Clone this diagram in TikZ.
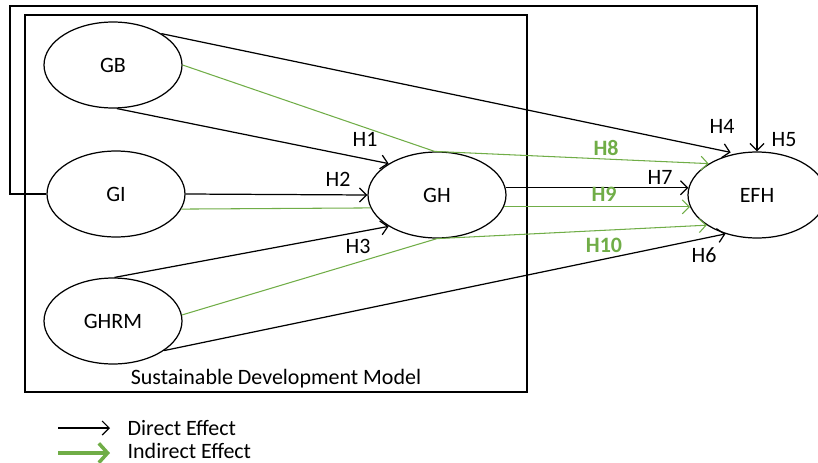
\documentclass[tikz,border=0pt]{standalone}
\usepackage{fontspec}
\setmainfont{Carlito}
\usepackage{xcolor}
\usepackage{tikz}
\usetikzlibrary{shapes.geometric,arrows.meta}
\definecolor{effgreen}{RGB}{112,173,71}

\begin{document}
\begin{tikzpicture}[x=0.02cm,y=-0.02cm,
  var/.style={draw,ellipse,line width=0.7pt,minimum width=2.76cm,minimum height=1.72cm,inner sep=0pt},
  direct/.style={draw,line width=0.7pt,-{Straight Barb[length=4pt,width=8pt]}},
  indirect/.style={draw=effgreen,line width=0.6pt,-{Straight Barb[length=4pt,width=8pt]}},
  hyp/.style={inner sep=1pt},
  hypg/.style={inner sep=1pt,text=effgreen,font=\bfseries}]
\fontsize{12.5}{14}\selectfont
\useasboundingbox (0,0) rectangle (818,463);
% model frame
\draw[line width=0.7pt] (25,15) rectangle (527,392);
\node (sdm) at (276,379) {Sustainable Development Model};
% constructs
\node[var] (GB) at (113,65) {GB};
\node[var] (GI) at (116,194) {GI};
\node[var] (GHRM) at (113,321) {GHRM};
\node[var] (GH) at (437,195) {GH};
\node[var] (EFH) at (757,195) {EFH};
% direct effects
\draw[direct] (GB.-85) -- (GH.147);
\draw[direct] (GI.east) -- (GH.west);
\draw[direct] (GHRM.88) -- (GH.213);
\draw[direct,shorten >=3pt] (GB.33) -- (EFH.117);
\coordinate (fbl) at (10,194);
\coordinate (fbt) at (10,6);
\draw[direct] (GI.west) -- (fbl) -- (fbt) -- (fbt -| EFH.north) -- (EFH.north);
\draw[direct] (GHRM.-30) -- (EFH.231);
\draw[direct] (GH.6) -- (EFH.174);
% indirect effects
\draw[indirect] (GB.east) -- (GH.93) -- (EFH.147);
\draw[indirect,-] (GI.-13) -- (GH.191);
\draw[indirect] (GH.-10) -- (EFH.190);
\draw[indirect] (GHRM.5) -- (GH.south) -- (EFH.211);
% hypotheses
\node[hyp] (h1) at (365,139) {H1};
\node[hyp] (h2) at (338,179) {H2};
\node[hyp] (h3) at (358,246) {H3};
\node[hyp] (h4) at (722,126) {H4};
\node[hyp] (h5) at (784,140) {H5};
\node[hyp] (h6) at (704,255) {H6};
\node[hyp] (h7) at (660,177) {H7};
\node[hypg] (h8) at (606,148) {H8};
\node[hypg] (h9) at (604,194) {H9};
\node[hypg] (h10) at (604,245) {H10};
% legend
\coordinate (d0) at (58,428);
\coordinate (d1) at (110,428);
\draw[direct] (d0) -- (d1);
\node[anchor=west] (dlab) at (120,428) {Direct Effect};
\coordinate (i0) at (58,453);
\coordinate (i1) at (110,453);
\draw[draw=effgreen,line width=2pt,-{Straight Barb[length=5pt,width=11pt]}] (i0) -- (i1);
\node[anchor=west] (ilab) at (120,451) {Indirect Effect};
\end{tikzpicture}
\end{document}
